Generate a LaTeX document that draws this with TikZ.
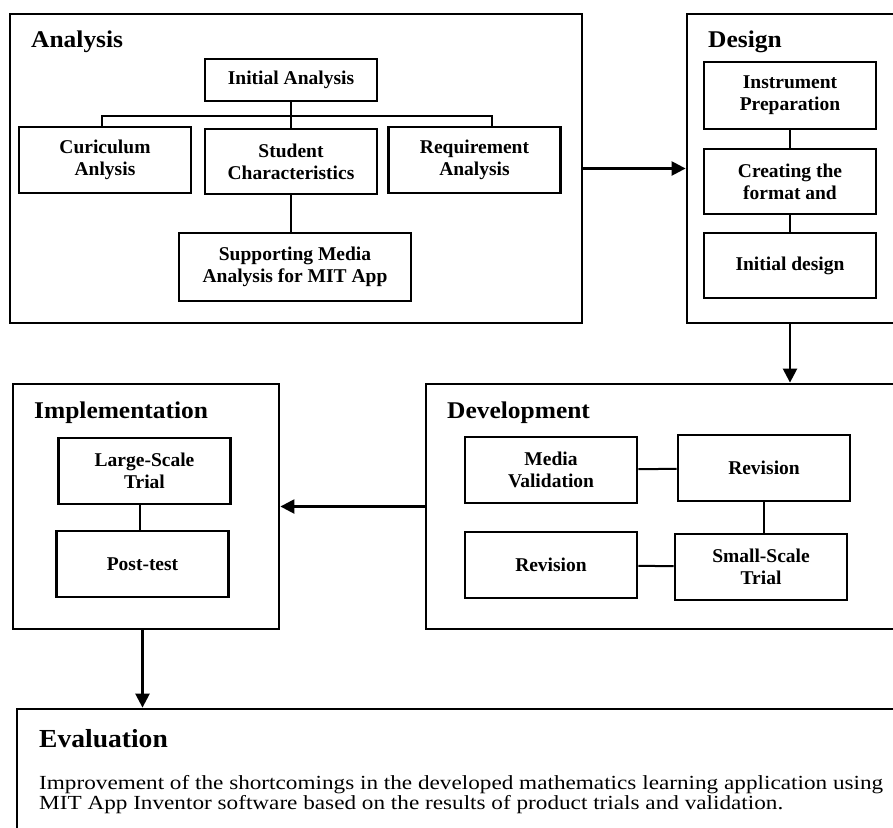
\documentclass[tikz,border=0pt]{standalone}
\usepackage{fontspec}
\setmainfont{Liberation Serif}
\newfontfamily\phasefont[FakeStretch=1.06]{Liberation Serif}
\newfontfamily\evalfont[FakeStretch=1.16]{Liberation Serif}
\usetikzlibrary{arrows.meta}

\begin{document}
\begin{tikzpicture}[x=1pt, y=-1pt,
	panel/.style={draw, line width=2.8pt, inner sep=0pt},
	stage/.style={draw, line width=2.6pt, minimum width=172pt, minimum height=66pt, align=center, inner sep=2pt, font=\fontsize{19.5}{22}\selectfont\bfseries},
	phasetitle/.style={anchor=base west, inner sep=0pt, font=\phasefont\fontsize{24}{28}\selectfont\bfseries},
	bodytext/.style={anchor=base west, inner sep=0pt, font=\evalfont\fontsize{20}{20}\selectfont},
	link/.style={line width=2pt},
	flow/.style={line width=2.4pt, -{Triangle[length=14pt,width=14pt]}}]

		\useasboundingbox (0,0) rectangle (893,827);
		\clip (0,0) rectangle (893,827);

		% Define the panels
		\node[panel, minimum width=572pt, minimum height=309pt] (analysis) at (296,168.5) {};
		\node[panel, minimum width=223pt, minimum height=309pt] (design) at (798.5,168.5) {};
		\node[panel, minimum width=266pt, minimum height=245pt] (implementation) at (146,506.5) {};
		\node[panel, minimum width=484pt, minimum height=245pt] (development) at (668,506.5) {};
		\node[panel, minimum width=893pt, minimum height=131pt] (evaluation) at (463.5,774.5) {};

		% Add titles for panels
		\node[phasetitle] (analysis_title) at (31,47) {Analysis};
		\node[phasetitle] (design_title) at (708,47) {Design};
		\node[phasetitle] (implementation_title) at (34,418) {Implementation};
		\node[phasetitle] (development_title) at (447,418) {Development};
		\node[phasetitle, font=\phasefont\fontsize{26}{30}\selectfont\bfseries] (evaluation_title) at (39,747) {Evaluation};
		\node[bodytext] (evaluation_line_a) at (39,789) {Improvement of the shortcomings in the developed mathematics learning application using};
		\node[bodytext] (evaluation_line_b) at (39,809) {MIT App Inventor software based on the results of product trials and validation.};

		% Define the nodes
		\node[stage, minimum height=42pt] (initial_analysis) at (291,80) {Initial Analysis};
		\node[stage] (curiculum) at (105,160) {Curiculum\\Anlysis};
		\node[stage, minimum height=65pt] (student) at (291,161.5) {Student\\Characteristics};
		\node[stage] (requirement) at (474.5,160) {Requirement\\Analysis};
		\node[stage, minimum width=232pt, minimum height=68pt] (supporting_media) at (295,267) {Supporting Media\\Analysis for MIT App};
		\coordinate (bus) at (291,116);

		\node[stage, minimum height=67pt] (instrument) at (790,95.5) {Instrument\\Preparation};
		\node[stage, minimum height=65pt] (format) at (790,181.5) {Creating the\\format and};
		\node[stage, minimum height=65pt] (initial_design) at (790,265.5) {Initial design};

		\node[stage] (large_scale) at (144.5,471) {Large-Scale\\Trial};
		\node[stage] (post_test) at (142.5,564) {Post-test};

		\node[stage] (media_validation) at (551,470) {Media\\Validation};
		\node[stage] (revision_top) at (764,468) {Revision};
		\node[stage] (revision_bottom) at (551,565) {Revision};
		\node[stage] (small_scale) at (761,567) {Small-Scale\\Trial};

		% Define the edges
		\draw[link] (initial_analysis) -- (student);
		\draw[link] ([xshift=-3pt]curiculum.north) |- (bus) -| ([xshift=17pt]requirement.north);
		\draw[link] (student.south) -- (student.south |- supporting_media.north);
		\draw[link] (instrument) -- (format);
		\draw[link] (format) -- (initial_design);
		\draw[link] ([xshift=-5pt]large_scale.south) -- ([xshift=-3pt]post_test.north);
		\draw[link] (media_validation) -- (revision_top);
		\draw[link] (revision_top.south) -- (revision_top.south |- small_scale.north);
		\draw[link] (revision_bottom) -- (small_scale);

		% Add arrows between panels
		\draw[flow] (analysis) -- (design);
		\draw[flow] (design.south -| instrument) -- (development.north -| instrument);
		\draw[flow] (development) -- (implementation);
		\draw[flow] (implementation.south -| post_test) -- (evaluation.north -| post_test);

	\end{tikzpicture}
\end{document}
